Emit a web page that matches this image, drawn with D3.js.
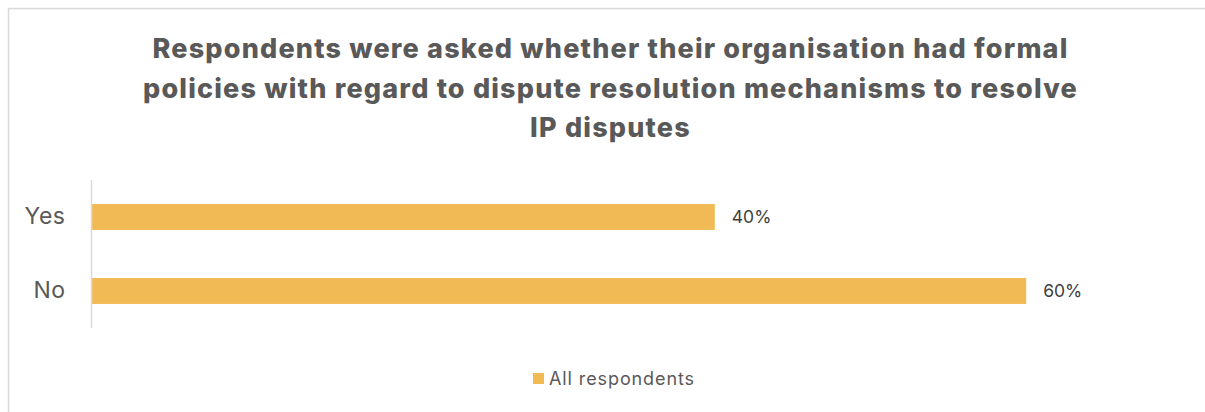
<!DOCTYPE html>
<html>
<head>
<meta charset="utf-8">
<script src="https://cdn.jsdelivr.net/npm/d3@7/dist/d3.min.js"></script>
<style>
  html, body { margin: 0; padding: 0; background: #fff; }
  svg { display: block; }
</style>
</head>
<body>
<svg id="chart" width="1205" height="412"></svg>
<script>
// Survey answers: share of respondents per answer
const categories = ["Yes", "No"];
const values = [0.40, 0.60];
const seriesName = "All respondents";
const titleLines = [
  "Respondents were asked whether their organisation had formal",
  "policies with regard to dispute resolution mechanisms to resolve",
  "IP disputes"
];

const W = 1205, H = 412;
const svg = d3.select("#chart");
const textColor = "#595959";
const barColor = "#F2BA54";
const font = "Inter, 'Open Sans', sans-serif";

// Chart frame (top and left edges)
svg.append("path")
  .attr("d", `M8.5,${H} L8.5,8.5 L${W},8.5`)
  .attr("fill", "none")
  .attr("stroke", "#d9d9d9")
  .attr("stroke-width", 1.5);

// Title, spread so the longest line spans the title width
const titleWidth = 935;
const title = svg.append("text")
  .attr("text-anchor", "middle")
  .attr("font-family", font)
  .attr("font-weight", 800)
  .attr("font-size", 27)
  .attr("fill", textColor);
const tspans = titleLines.map((line, i) =>
  title.append("tspan").attr("x", 610.5).attr("y", 58 + i * 39.5).text(line));
const longest = d3.maxIndex(titleLines, s => s.length);
const natural = tspans[longest].node().getComputedTextLength();
const spacing = Math.max(0, (titleWidth - natural) / titleLines[longest].length);
title.attr("letter-spacing", spacing.toFixed(2));

// Scales
const x0 = 92;
const x = d3.scaleLinear().domain([0, 1]).range([x0, x0 + 1557]);
const y = d3.scaleBand().domain(categories).range([180, 328]).paddingInner(0.65).paddingOuter(0.325);

// Bars
svg.append("g").selectAll("rect")
  .data(categories)
  .join("rect")
  .attr("x", x(0))
  .attr("y", d => y(d))
  .attr("width", (d, i) => x(values[i]) - x(0))
  .attr("height", y.bandwidth())
  .attr("fill", barColor);

// Category axis
const axis = svg.append("g")
  .attr("transform", `translate(${x0 - 0.5},0)`)
  .call(d3.axisLeft(y).tickSize(0).tickPadding(26));
axis.select(".domain").attr("stroke", "#d9d9d9").attr("stroke-width", 1.5)
  .attr("d", "M0,180V328");
axis.selectAll("text")
  .attr("font-family", font)
  .attr("font-size", 23)
  .attr("letter-spacing", 0.5)
  .attr("fill", textColor);

// Value labels
svg.append("g").selectAll("text")
  .data(categories)
  .join("text")
  .attr("x", (d, i) => x(values[i]) + 17)
  .attr("y", d => y(d) + y.bandwidth() / 2)
  .attr("dy", "0.35em")
  .attr("font-family", font)
  .attr("font-size", 17.5)
  .attr("fill", "#404040")
  .text((d, i) => d3.format(".0%")(values[i]));

// Legend
const legend = svg.append("g").attr("transform", "translate(533,373)");
legend.append("rect").attr("width", 11).attr("height", 11).attr("fill", barColor);
legend.append("text")
  .attr("x", 16).attr("y", 5.5).attr("dy", "0.35em")
  .attr("font-family", font)
  .attr("font-size", 18)
  .attr("letter-spacing", 0.9)
  .attr("fill", textColor)
  .text(seriesName);
</script>
</body>
</html>
